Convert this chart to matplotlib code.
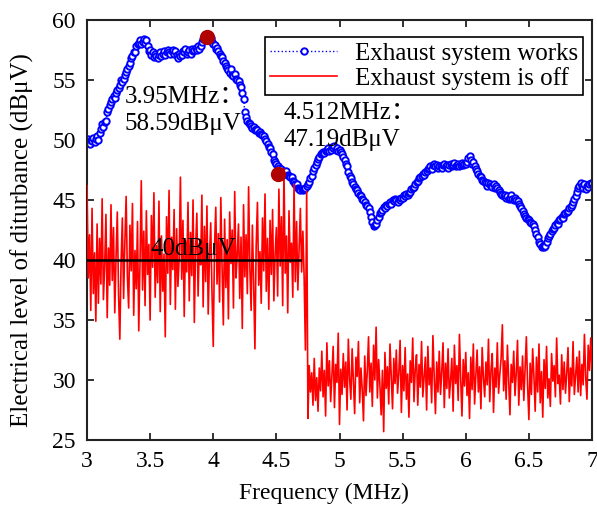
import numpy as np
import matplotlib
matplotlib.use("Agg")
import matplotlib.pyplot as plt

plt.rcParams['font.family'] = ['Liberation Serif', 'Noto Sans CJK SC', 'DejaVu Serif']

# Frequency grid (MHz)
freq = np.linspace(3.0, 7.0, 401)

# Electrical disturbance level with the exhaust system running (dBuV)
level_works = [
    49.8, 50.1, 49.7, 50.0, 49.9, 50.2, 49.8, 50.1, 50.3, 50.0,
    50.6, 50.9, 51.3, 51.1, 51.5, 51.6, 52.3, 52.6, 52.9, 53.2,
    53.4, 53.7, 53.5, 53.9, 54.2, 54.3, 54.6, 55.0, 54.8, 55.1,
    55.4, 55.7, 55.9, 56.2, 56.4, 56.8, 57.0, 57.3, 57.3, 57.8,
    58.0, 58.1, 58.3, 58.0, 58.2, 58.4, 58.1, 58.3, 57.8, 57.4,
    57.5, 57.1, 57.3, 56.9, 57.2, 57.0, 56.8, 57.1, 57.3, 57.0,
    57.2, 57.4, 57.1, 57.3, 57.5, 57.3, 57.2, 57.4, 57.5, 57.2,
    57.4, 57.1, 56.8, 57.2, 57.0, 57.1, 57.4, 57.3, 57.6, 57.2,
    57.3, 57.5, 57.2, 57.6, 57.4, 57.5, 57.7, 57.5, 57.8, 57.6,
    57.8, 58.2, 58.4, 58.6, 58.5, 58.7, 58.6, 58.4, 58.5, 58.2,
    58.0, 57.9, 57.6, 57.7, 57.4, 57.2, 57.0, 56.9, 56.6, 56.4,
    56.2, 56.0, 55.8, 55.6, 55.9, 55.4, 55.3, 55.5, 55.1, 55.0,
    54.9, 54.6, 54.4, 53.9, 53.4, 52.3, 51.9, 51.6, 51.4, 51.3,
    51.2, 51.0, 51.1, 50.8, 50.9, 50.8, 50.6, 50.7, 50.5, 50.4,
    50.3, 50.1, 49.9, 49.7, 49.4, 49.3, 49.0, 48.8, 48.3, 48.2,
    48.0, 47.8, 47.7, 47.5, 47.6, 47.4, 47.3, 47.2, 47.4, 47.1,
    47.0, 46.9, 46.9, 46.6, 46.5, 46.3, 46.3, 46.0, 45.9, 45.8,
    45.9, 45.8, 45.9, 46.0, 46.2, 46.3, 46.5, 46.8, 47.0, 47.4,
    47.7, 47.9, 48.2, 48.4, 48.6, 48.8, 48.9, 49.0, 48.9, 49.1,
    49.2, 49.3, 49.1, 49.2, 49.4, 49.3, 49.5, 49.2, 49.3, 49.1,
    49.2, 49.0, 48.8, 48.6, 48.3, 48.0, 47.8, 47.3, 47.0, 46.8,
    46.5, 46.3, 46.1, 45.9, 45.8, 45.6, 45.4, 45.3, 45.1, 45.0,
    44.8, 44.6, 44.5, 44.3, 44.0, 43.6, 43.2, 42.8, 42.9, 43.0,
    43.3, 43.6, 43.9, 44.0, 44.2, 44.4, 44.3, 44.6, 44.5, 44.7,
    44.8, 44.7, 45.0, 44.9, 45.1, 45.0, 44.8, 45.1, 45.0, 45.2,
    45.2, 45.4, 45.3, 45.5, 45.4, 45.6, 45.7, 45.9, 46.0, 46.1,
    46.3, 46.5, 46.6, 46.8, 46.9, 47.0, 47.2, 47.1, 47.3, 47.4,
    47.6, 47.7, 47.8, 47.6, 47.9, 48.0, 47.8, 47.9, 47.7, 47.8,
    47.8, 47.7, 47.9, 48.0, 47.8, 47.9, 47.7, 47.9, 48.0, 47.8,
    47.9, 48.1, 47.8, 47.9, 48.0, 47.8, 47.9, 48.1, 47.9, 48.0,
    48.0, 48.2, 48.5, 48.7, 48.3, 48.0, 48.2, 47.8, 47.6, 47.4,
    47.2, 47.0, 46.9, 46.7, 46.6, 46.5, 46.4, 46.2, 46.4, 46.3,
    46.2, 46.1, 46.3, 46.0, 46.2, 46.0, 45.8, 45.7, 45.5, 45.4,
    45.3, 45.4, 45.2, 45.3, 45.1, 45.2, 45.4, 45.1, 45.0, 45.2,
    45.0, 44.9, 44.7, 44.5, 44.3, 44.1, 43.8, 43.7, 43.5, 43.4,
    43.3, 43.2, 43.1, 43.0, 42.8, 42.5, 42.2, 41.9, 41.5, 41.3,
    41.1, 41.2, 41.1, 41.2, 41.5, 41.8, 42.0, 42.2, 42.4, 42.6,
    42.7, 42.9, 43.1, 43.0, 43.3, 43.4, 43.6, 43.5, 43.8, 43.9,
    44.0, 44.1, 44.3, 44.4, 44.6, 44.8, 45.1, 45.3, 45.7, 46.0,
    46.2, 46.4, 46.2, 46.0, 46.3, 45.9, 46.2, 46.1, 46.3, 46.4,
    46.4,
]

# Electrical disturbance level with the exhaust system switched off (dBuV)
level_off = [
    46.2, 38.5, 42.1, 35.8, 44.3, 37.2, 40.6, 34.9, 43.0, 36.4,
    41.8, 38.0, 45.1, 36.7, 39.5, 43.8, 35.2, 41.0, 37.9, 44.6,
    38.3, 42.7, 35.6, 40.2, 44.0, 37.1, 33.4, 39.8, 43.5, 36.8,
    41.5, 45.3, 38.6, 36.0, 42.9, 39.1, 44.7, 35.4, 40.8, 37.6,
    43.2, 34.1, 39.9, 46.6, 37.5, 42.4, 36.2, 44.1, 38.8, 41.3,
    35.0, 43.7, 39.4, 45.6, 36.9, 41.2, 38.1, 44.9, 35.7, 42.0,
    37.4, 40.5, 33.6, 43.6, 38.9, 45.8, 36.3, 41.9, 39.2, 44.2,
    35.9, 42.6, 37.8, 40.1, 46.9, 38.4, 43.3, 35.3, 41.6, 39.0,
    44.8, 36.6, 42.3, 38.7, 45.0, 34.8, 40.9, 43.9, 37.0, 41.4,
    39.6, 45.4, 36.1, 42.8, 38.2, 44.5, 35.5, 40.3, 43.1, 37.3,
    32.8, 41.1, 44.4, 38.0, 42.2, 36.5, 45.2, 39.3, 34.6, 43.4,
    37.7, 41.7, 35.1, 44.0, 39.7, 42.5, 36.0, 45.7, 38.5, 40.4,
    43.0, 36.8, 41.9, 34.3, 44.6, 38.6, 42.1, 37.2, 46.1, 39.4,
    35.8, 42.9, 38.1, 32.6, 41.2, 44.8, 37.9, 40.7, 36.4, 43.5,
    39.1, 45.5, 37.4, 41.8, 35.9, 43.3, 38.8, 44.2, 36.6, 40.5,
    42.7, 37.0, 45.9, 39.5, 43.6, 36.2, 47.6, 38.9, 42.0, 35.6,
    44.1, 39.8, 41.4, 36.9, 46.3, 38.2, 43.2, 37.5, 41.0, 44.3,
    39.0, 42.4, 38.5, 32.5, 45.7, 26.8, 31.2, 29.0, 30.6, 27.9,
    31.8, 28.3, 30.2, 27.4, 31.0, 29.1, 32.4, 28.6, 30.8, 27.0,
    33.1, 29.5, 31.6, 28.2, 30.4, 32.8, 27.7, 31.3, 29.8, 33.9,
    26.3, 30.9, 28.8, 32.2, 29.4, 31.5, 27.5, 33.4, 30.1, 28.4,
    32.6, 29.9, 27.2, 31.9, 30.3, 33.2, 28.1, 31.0, 29.2, 26.6,
    32.0, 28.7, 30.7, 33.6, 29.0, 31.4, 27.8, 32.9, 30.0, 34.4,
    28.5, 31.7, 29.6, 27.1, 30.8, 25.7, 32.3, 29.3, 31.1, 28.0,
    33.0, 30.4, 27.6, 31.8, 29.7, 32.5, 28.9, 30.6, 33.3, 27.3,
    31.2, 29.1, 32.7, 28.4, 30.5, 26.9, 31.6, 29.8, 33.5, 28.2,
    30.9, 32.1, 27.9, 31.3, 29.4, 33.2, 28.6, 30.2, 31.9, 27.5,
    32.8, 29.6, 31.0, 28.1, 33.7, 30.3, 27.2, 31.5, 29.0, 32.4,
    28.8, 30.7, 33.1, 27.7, 31.4, 29.3, 32.6, 28.5, 30.0, 31.8,
    27.4, 32.9, 29.7, 31.2, 28.3, 33.8, 30.1, 27.0, 31.7, 29.5,
    32.3, 28.7, 30.6, 26.8, 31.9, 29.2, 33.0, 28.0, 30.4, 32.5,
    29.0, 31.1, 27.6, 32.7, 30.2, 28.6, 31.5, 29.6, 33.4, 28.2,
    30.8, 32.2, 27.3, 31.0, 29.4, 33.1, 28.9, 30.5, 31.8, 34.6,
    29.1, 31.6, 28.4, 32.9, 30.0, 27.1, 31.3, 29.8, 32.4, 28.7,
    30.6, 33.3, 27.9, 31.1, 29.2, 32.0, 28.3, 30.9, 33.6, 29.5,
    26.7, 31.4, 28.8, 32.6, 30.3, 27.4, 31.9, 29.0, 33.0, 28.1,
    30.7, 26.9, 31.7, 29.3, 32.8, 28.5, 30.1, 27.8, 32.2, 29.9,
    31.2, 28.6, 33.5, 29.7, 30.4, 28.0, 32.1, 29.2, 31.5, 28.9,
    30.6, 32.7, 28.2, 31.0, 29.5, 33.2, 28.8, 30.3, 31.9, 29.0,
    32.4, 28.7, 31.3, 29.6, 33.8, 30.2, 28.4, 32.9, 30.8, 33.5,
    30.9,
]

# Highlighted readings
peak_freq = [3.95, 4.512]
peak_level = [58.59, 47.19]
peak_labels = [["3.95MHz：", "58.59dBμV"], ["4.512MHz：", "47.19dBμV"]]

# Reference level for the switched-off band
ref_level = 40
ref_span = [3.0, 4.69]

x_ticks = [3, 3.5, 4, 4.5, 5, 5.5, 6, 6.5, 7]
x_tick_labels = ["3", "3.5", "4", "4.5", "5", "5.5", "6", "6.5", "7"]
y_ticks = [25, 30, 35, 40, 45, 50, 55, 60]

FS = 18

fig = plt.figure(figsize=(5.97, 5.11), dpi=100)
ax = fig.add_axes([87 / 597, 1 - 440 / 511, (592 - 87) / 597, (440 - 20) / 511])

ax.plot(freq, level_works, color='#0000ff', linestyle=':', linewidth=1.0,
        marker='o', markersize=4.6, markerfacecolor='white',
        markeredgecolor='#0000ff', markeredgewidth=1.4,
        label='Exhaust system works', zorder=2)
ax.plot(freq, level_off, color='#ff0000', linewidth=1.2,
        label='Exhaust system is off', zorder=3)

ax.plot(ref_span, [ref_level, ref_level], color='black', linewidth=1.8, zorder=4)
ax.text(3.5, 40.45, "40dBμV", fontsize=FS, ha='left', va='baseline', zorder=5)

ax.plot(peak_freq, peak_level, linestyle='none', marker='o', markersize=10,
        color='#b00000', zorder=6)

ax.text(3.30, 53.1, peak_labels[0][0], fontsize=FS, ha='left', va='baseline')
ax.text(3.30, 50.85, peak_labels[0][1], fontsize=FS, ha='left', va='baseline')
ax.text(4.56, 51.75, peak_labels[1][0], fontsize=FS, ha='left', va='baseline')
ax.text(4.56, 49.5, peak_labels[1][1], fontsize=FS, ha='left', va='baseline')

ax.set_xlim(3, 7)
ax.set_ylim(25, 60)
ax.set_xticks(x_ticks)
ax.set_xticklabels(x_tick_labels)
ax.set_yticks(y_ticks)
ax.tick_params(direction='in', top=True, right=True, length=5, width=1.3,
               labelsize=17, pad=8, color='#222222')
for s in ax.spines.values():
    s.set_linewidth(1.5)
    s.set_color('#222222')

ax.set_xlabel("Frequency (MHz)", fontsize=17)
ax.set_ylabel("Electrical level of diturbance (dBμV)", fontsize=18)
ax.xaxis.set_label_coords(0.469, -0.103)
ax.yaxis.set_label_coords(-0.104, 0.476)

leg = ax.legend(loc='upper right', bbox_to_anchor=(0.982, 0.9595), fontsize=FS,
                frameon=True, fancybox=False, framealpha=1, edgecolor='black',
                handlelength=2.7, borderpad=0.2, labelspacing=0.1,
                handletextpad=0.7, borderaxespad=0)
leg.get_frame().set_linewidth(1.2)

fig.savefig("out.png", dpi=100)
